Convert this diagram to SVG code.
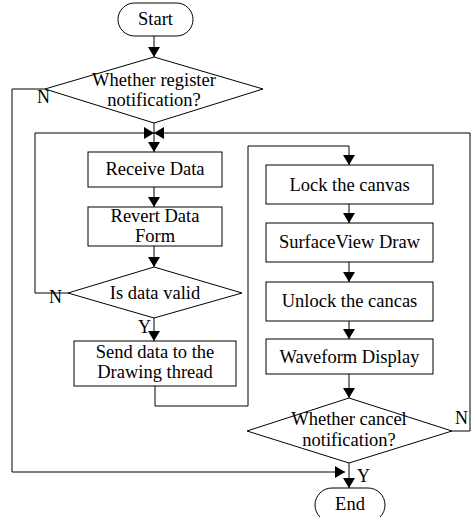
<svg xmlns="http://www.w3.org/2000/svg" width="471" height="517" viewBox="0 0 471 517">
<style>
.s{fill:#fff;stroke:#000;stroke-width:1}
.t{font-size:18.5px;fill:#000;text-anchor:middle}
.l{font-size:18px;fill:#000}
.c{fill:none;stroke:#000;stroke-width:1}
</style>
<defs>
<marker id="a" markerUnits="userSpaceOnUse" viewBox="0 0 10 12" refX="10" refY="6" markerWidth="10" markerHeight="12" orient="auto">
<path d="M0,0 L10,6 L0,12 z" fill="#000"/>
</marker>
</defs>
<rect width="471" height="517" fill="#fff"/>
<g font-family="'Liberation Serif', 'DejaVu Serif', serif">
<g id="connectors">
<path class="c" d="M154,36 V57" marker-end="url(#a)"/>
<path class="c" d="M45,89 H12 V472 H345" marker-end="url(#a)"/>
<path class="c" d="M154,123 V152" marker-end="url(#a)"/>
<path class="c" d="M68,293 H35 V133 H154" marker-end="url(#a)"/>
<path class="c" d="M452,431 H470 V133 H154" marker-end="url(#a)"/>
<path class="c" d="M154,187 V207" marker-end="url(#a)"/>
<path class="c" d="M154,246 V267" marker-end="url(#a)"/>
<path class="c" d="M154,318 V341" marker-end="url(#a)"/>
<path class="c" d="M155,386 V406 H248 V146 H349 V165" marker-end="url(#a)"/>
<path class="c" d="M349,204 V223" marker-end="url(#a)"/>
<path class="c" d="M349,262 V282" marker-end="url(#a)"/>
<path class="c" d="M349,321 V339" marker-end="url(#a)"/>
<path class="c" d="M349,374 V398" marker-end="url(#a)"/>
<path class="c" d="M349,463 V488" marker-end="url(#a)"/>
<text class="l" x="37" y="103">N</text>
<text class="l" x="49" y="303">N</text>
<text class="l" x="138" y="333">Y</text>
<text class="l" x="455" y="424">N</text>
<text class="l" x="357" y="482">Y</text>
</g>
<g id="start">
<rect class="s" x="118" y="3" width="75" height="33" rx="16.5"/>
<text class="t" x="155.5" y="25">Start</text>
</g>
<g id="d1">
<polygon class="s" points="154,57 263,89 154,123 45,89"/>
<text class="t" x="154" y="86">Whether register</text>
<text class="t" x="154" y="106">notification?</text>
</g>
<g id="receive">
<rect class="s" x="88" y="152" width="134" height="35"/>
<text class="t" x="155" y="175">Receive Data</text>
</g>
<g id="revert">
<rect class="s" x="88" y="207" width="134" height="39"/>
<text class="t" x="155" y="222">Revert Data</text>
<text class="t" x="155" y="242">Form</text>
</g>
<g id="d2">
<polygon class="s" points="154,267 242,293 154,318 68,293"/>
<text class="t" x="155" y="299">Is data valid</text>
</g>
<g id="send">
<rect class="s" x="74" y="341" width="162" height="45"/>
<text class="t" x="155" y="358">Send data to the</text>
<text class="t" x="155" y="378">Drawing thread</text>
</g>
<g id="lock">
<rect class="s" x="266" y="165" width="167" height="39"/>
<text class="t" x="349.5" y="191">Lock the canvas</text>
</g>
<g id="surface">
<rect class="s" x="266" y="223" width="167" height="39"/>
<text class="t" x="349.5" y="248">SurfaceView Draw</text>
</g>
<g id="unlock">
<rect class="s" x="266" y="282" width="167" height="39"/>
<text class="t" x="349.5" y="307">Unlock the cancas</text>
</g>
<g id="waveform">
<rect class="s" x="266" y="339" width="167" height="35"/>
<text class="t" x="349.5" y="363">Waveform Display</text>
</g>
<g id="d3">
<polygon class="s" points="349,398 452,431 349,463 247,431"/>
<text class="t" x="349" y="425">Whether cancel</text>
<text class="t" x="349" y="446">notification?</text>
</g>
<g id="end">
<rect class="s" x="315" y="488" width="70" height="34" rx="17"/>
<text class="t" x="350" y="510">End</text>
</g>
</g>
</svg>
